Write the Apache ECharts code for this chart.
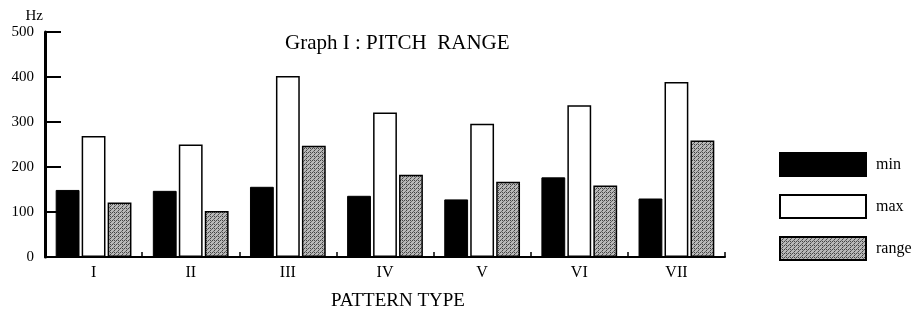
<!DOCTYPE html>
<html>
<head>
<meta charset="utf-8">
<script src="https://cdn.jsdelivr.net/npm/echarts@6/dist/echarts.min.js"></script>
<style>
  html, body { margin: 0; padding: 0; background: #fff; }
  #chart { width: 915px; height: 316px; }
</style>
</head>
<body>
<div id="chart"></div>
<script>
// pattern types on the x axis
var categories = ['I', 'II', 'III', 'IV', 'V', 'VI', 'VII'];
// Hz values
var minValues = [149, 147, 156, 136, 128, 177, 130];
var maxValues = [269, 250, 402, 321, 296, 337, 389];
var rangeValues = [121, 102, 247, 183, 167, 159, 259];
var yTicks = [0, 100, 200, 300, 400, 500];

var FONT = '"Liberation Serif", "DejaVu Serif", serif';

/**
 * dotted gray fill like the scanned screen tone
 */
function makeTone() {
    var c = document.createElement('canvas');
    c.width = 4;
    c.height = 4;
    var ctx = c.getContext('2d');
    ctx.fillStyle = '#b8b8b8';
    ctx.fillRect(0, 0, 4, 4);
    ctx.fillStyle = '#444';
    ctx.fillRect(0, 0, 1, 1);
    ctx.fillRect(2, 2, 1, 1);
    ctx.fillRect(2, 0, 1, 1);
    ctx.fillStyle = '#6a6a6a';
    ctx.fillRect(1, 3, 1, 1);
    ctx.fillRect(3, 1, 1, 1);
    return c;
}

var myChart = echarts.init(document.getElementById('chart'), null, {renderer: 'canvas'});

var option = {
    animation: false,
    backgroundColor: '#fff',
    textStyle: {fontFamily: FONT, color: '#000'},
    title: {
        text: 'Graph I : PITCH  RANGE',
        left: 285,
        top: 33,
        padding: 0,
        textStyle: {fontFamily: FONT, fontSize: 21, fontWeight: 'normal', color: '#000'}
    },
    legend: {
        orient: 'vertical',
        left: 779,
        top: 152,
        padding: 0,
        itemWidth: 86,
        itemHeight: 23,
        itemGap: 17,
        icon: 'rect',
        textStyle: {fontFamily: FONT, fontSize: 16, color: '#000', padding: [0, 0, 0, 5]},
        data: ['min', 'max', 'range']
    },
    grid: {
        left: 45,
        right: 190,
        top: 32,
        bottom: 59
    },
    xAxis: {
        type: 'category',
        data: categories,
        name: 'PATTERN TYPE',
        nameLocation: 'middle',
        nameGap: 35,
        nameTextStyle: {fontFamily: FONT, fontSize: 19, color: '#000', padding: [0, 0, 0, 26]},
        axisLine: {lineStyle: {color: '#000', width: 2}},
        axisTick: {show: true, inside: true, length: 5, lineStyle: {color: '#000', width: 1.5}},
        axisLabel: {fontFamily: FONT, fontSize: 16, color: '#000', margin: 8}
    },
    yAxis: {
        type: 'value',
        min: 0,
        max: 500,
        interval: 100,
        name: 'Hz',
        nameLocation: 'end',
        nameGap: 8,
        nameTextStyle: {fontFamily: FONT, fontSize: 15, color: '#000', align: 'right', padding: [0, 2, 0, 0]},
        axisLine: {show: true, lineStyle: {color: '#000', width: 3}},
        axisTick: {show: true, inside: true, length: 16, lineStyle: {color: '#000', width: 2}},
        axisLabel: {
            fontFamily: FONT, fontSize: 15, color: '#000', margin: 11,
            formatter: function (v) { return yTicks.indexOf(v) >= 0 ? String(v) : ''; }
        },
        splitLine: {show: false}
    },
    series: [{
        name: 'min',
        type: 'bar',
        data: minValues,
        barGap: '9%',
        barCategoryGap: '22%',
        itemStyle: {color: '#000', borderColor: '#000', borderWidth: 1}
    }, {
        name: 'max',
        type: 'bar',
        data: maxValues,
        itemStyle: {color: '#fff', borderColor: '#000', borderWidth: 1.5}
    }, {
        name: 'range',
        type: 'bar',
        data: rangeValues,
        itemStyle: {color: {image: makeTone(), repeat: 'repeat'}, borderColor: '#000', borderWidth: 1.5}
    }]
};

myChart.setOption(option);
</script>
</body>
</html>
